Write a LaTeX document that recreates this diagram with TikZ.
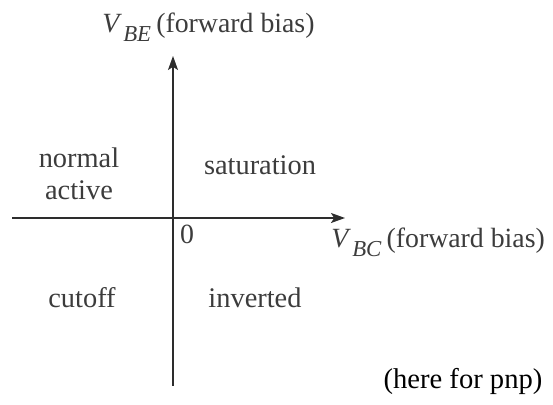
\documentclass[tikz,border=0pt]{standalone}
\usepackage{fontspec}
\setmainfont{Liberation Serif}
\usepackage{xcolor}
\usepackage{tikz}
\usetikzlibrary{arrows.meta,positioning}
\definecolor{axisgray}{RGB}{45, 45, 45}
\definecolor{labelgray}{RGB}{60, 60, 60}

\newcommand{\volt}[1]{\textit{V}\kern0.6pt\raisebox{-4.5pt}{\fontsize{11.4}{12}\selectfont\itshape #1}\kern2.6pt}

\begin{document}
\begin{tikzpicture}[x=0.5pt, y=-0.5pt, >={Stealth[length=7pt, width=5pt, inset=1.6pt]},
        region/.style={font=\fontsize{14.2}{16}\selectfont, text=labelgray, align=center},
        axislabel/.style={font=\fontsize{13.9}{16}\selectfont, text=labelgray, inner sep=0pt}]
        \useasboundingbox (0,0) rectangle (553,405);
        % axes
        \coordinate (origin) at (173, 218);
        \coordinate (xstart) at (12, 218);
        \coordinate (xend) at (345, 218);
        \coordinate (ystart) at (173, 386);
        \coordinate (yend) at (173, 56);
        \draw[->, line width=0.8pt, color=axisgray] (xstart) -- (xend);
        \draw[->, line width=0.8pt, color=axisgray] (ystart) -- (yend);
        % axis labels
        \node[axislabel, anchor=base west] (vbe) at (102, 33) {\volt{BE}(forward bias)};
        \node[axislabel, anchor=base west] (vbc) at (331, 248) {\volt{BC}(forward bias)};
        \node[axislabel] (zero) at (187, 234) {0};
        % regions
        \node[region] (normal) at (79, 174) {normal\\active};
        \node[region] (sat) at (260, 165) {saturation};
        \node[region] (cutoff) at (82, 298) {cutoff};
        \node[region] (inv) at (255, 298) {inverted};
        % note
        \node[font=\fontsize{14.3}{16}\selectfont] (note) at (463, 381) {(here for pnp)};
    \end{tikzpicture}
\end{document}
